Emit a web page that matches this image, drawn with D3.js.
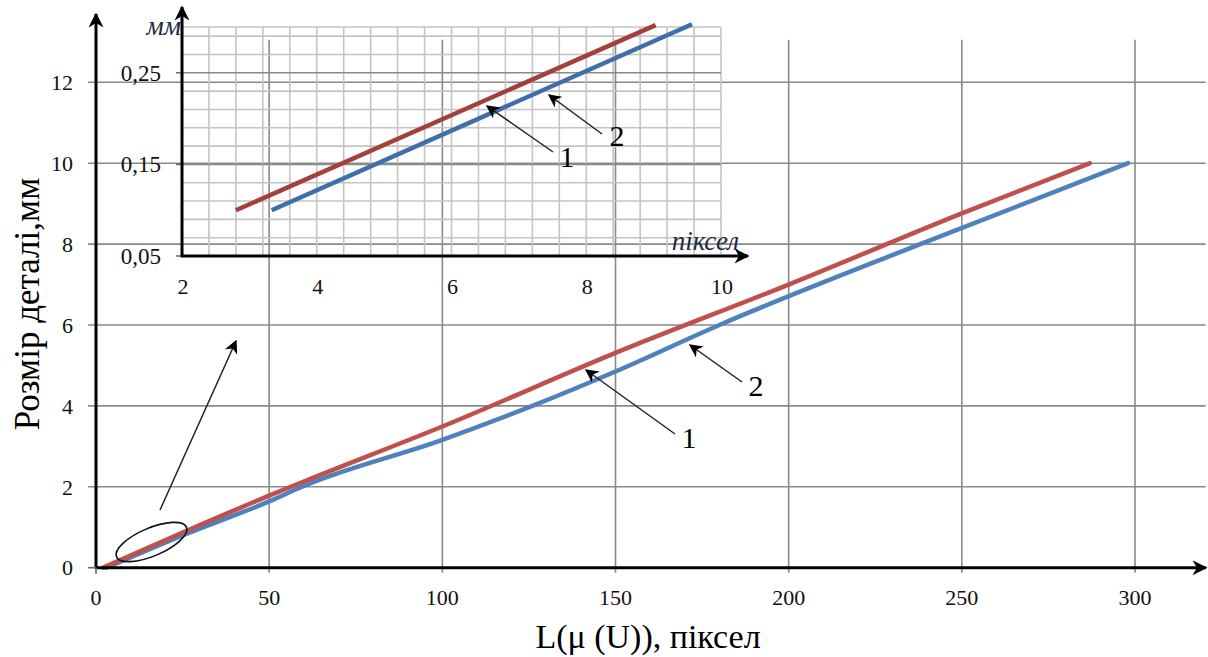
<!DOCTYPE html>
<html><head><meta charset="utf-8">
<script src="https://cdn.jsdelivr.net/npm/d3@7"></script>
<style>html,body{margin:0;padding:0;background:#fff;}svg{display:block;}</style>
</head><body>
<svg id="c" width="1208" height="657"></svg>
<script>
// ---- data ----
const xTicks = [0, 50, 100, 150, 200, 250, 300];
const yTicks = [0, 2, 4, 6, 8, 10, 12];
const curve1X = [2, 25, 50, 60, 100, 150, 200, 250, 287];
const curve1Y = [0, 0.87, 1.78, 2.13, 3.49, 5.31, 7.0, 8.76, 10.0];
const curve2X = [3, 25, 50, 60, 100, 126, 150, 180, 238, 298];
const curve2Y = [0, 0.8, 1.64, 2.02, 3.16, 4.0, 4.85, 6.0, 8.0, 10.0];
const insetXTicks = [2, 4, 6, 8, 10];
const insetYTicks = [0.05, 0.15, 0.25];
const insetYTickLabels = ["0,05", "0,15", "0,25"];
const inset1X = [2.8, 9.03];
const inset1Y = [0.10, 0.302];
const inset2X = [3.33, 9.57];
const inset2Y = [0.10, 0.303];
const xTitle = "L(μ (U)), піксел";
const yTitle = "Розмір деталі,мм";

const svg = d3.select("#c");
const serif = "'Liberation Serif','Times New Roman',serif";

// markers
const defs = svg.append("defs");
defs.append("marker").attr("id","axArr").attr("viewBox","0 0 10 10").attr("refX",9).attr("refY",5)
  .attr("markerWidth",5).attr("markerHeight",5).attr("orient","auto").attr("markerUnits","strokeWidth")
  .append("path").attr("d","M0,0 L10,5 L0,10 L3,5 Z").attr("fill","#000");
defs.append("marker").attr("id","annArr").attr("viewBox","0 0 10 10").attr("refX",9).attr("refY",5)
  .attr("markerWidth",9).attr("markerHeight",9).attr("orient","auto").attr("markerUnits","strokeWidth")
  .append("path").attr("d","M0,0 L10,5 L0,10 L3,5 Z").attr("fill","#000");

// ---- main scales ----
const x = d3.scaleLinear().domain([0, 300]).range([96, 1135]);
const y = d3.scaleLinear().domain([0, 12]).range([567.7, 82.3]);
const yTop = 13.05, xRight = 320.4;

// gridlines
const grid = svg.append("g");
grid.selectAll(".vg").data(xTicks.slice(1)).join("line")
  .attr("x1", d=>x(d)).attr("x2", d=>x(d)).attr("y1", y(yTop)).attr("y2", y(0)+5)
  .attr("stroke","#8a8a8a").attr("stroke-width",1.6);
grid.selectAll(".hg").data(yTicks.slice(1)).join("line")
  .attr("x1", x(0)-8).attr("x2", x(xRight)).attr("y1", d=>y(d)).attr("y2", d=>y(d))
  .attr("stroke","#8a8a8a").attr("stroke-width",1.6);

// ---- inset ----
const ix = d3.scaleLinear().domain([2, 10]).range([182, 721]);
const iy = d3.scaleLinear().domain([0.05, 0.30]).range([256, 27]);
const ig = svg.append("g");
const vMinor = d3.range(0, 21).map(i => 2 + i * 0.4);
const hMinor = d3.range(0, 13).map(i => 0.05 + i * 0.02).concat([0.30]);
ig.selectAll(".ivg").data(vMinor).join("line")
  .attr("x1", d=>ix(d)).attr("x2", d=>ix(d)).attr("y1", iy(0.30)).attr("y2", iy(0.05))
  .attr("stroke","#c4c4c4").attr("stroke-width",1.6);
ig.selectAll(".ihg").data(hMinor).join("line")
  .attr("x1", ix(2)).attr("x2", ix(10)).attr("y1", d=>iy(d)).attr("y2", d=>iy(d))
  .attr("stroke", d => (Math.abs(d-0.15)<1e-6||Math.abs(d-0.25)<1e-6) ? "#8a8a8a" : "#c4c4c4")
  .attr("stroke-width",1.6);
ig.selectAll(".iyt").data(insetYTicks).join("line")
  .attr("x1", ix(2)-6).attr("x2", ix(2)).attr("y1", d=>iy(d)).attr("y2", d=>iy(d))
  .attr("stroke","#666").attr("stroke-width",1.5);
// inset lines
const iline = d3.line().x(d=>ix(d[0])).y(d=>iy(d[1]));
ig.append("path").datum(inset1X.map((v,i)=>[v, inset1Y[i]])).attr("d", iline)
  .attr("fill","none").attr("stroke","#a33f3c").attr("stroke-width",4.5);
ig.append("path").datum(inset2X.map((v,i)=>[v, inset2Y[i]])).attr("d", iline)
  .attr("fill","none").attr("stroke","#3f6fab").attr("stroke-width",4.5);
// inset axes
ig.append("line").attr("x1", ix(2)).attr("x2", ix(2)).attr("y1", iy(0.05)+1).attr("y2", 7)
  .attr("stroke","#000").attr("stroke-width",3).attr("marker-end","url(#axArr)");
ig.append("line").attr("x1", ix(2)-1).attr("x2", 748).attr("y1", iy(0.05)).attr("y2", iy(0.05))
  .attr("stroke","#000").attr("stroke-width",3).attr("marker-end","url(#axArr)");
// inset tick labels
ig.selectAll(".iyl").data(insetYTicks).join("text")
  .attr("x", 161).attr("y", d=>iy(d)).attr("dy","0.35em").attr("text-anchor","end")
  .attr("font-family", serif).attr("font-size", 23).attr("fill","#111")
  .text((d,i)=>insetYTickLabels[i]);
ig.selectAll(".ixl").data(insetXTicks).join("text")
  .attr("x", d=>ix(d)+1).attr("y", 294).attr("text-anchor","middle")
  .attr("font-family", serif).attr("font-size", 22).attr("fill","#111").text(d=>d);
ig.append("text").attr("x", 181).attr("y", 35).attr("text-anchor","end")
  .attr("font-family", serif).attr("font-style","italic").attr("font-size", 27).attr("fill","#1f2a44").text("мм");
ig.append("text").attr("x", 739).attr("y", 250).attr("text-anchor","end")
  .attr("font-family", serif).attr("font-style","italic").attr("font-size", 27).attr("fill","#1f2a44").text("піксел");
// inset annotations
ig.append("line").attr("x1",553).attr("y1",152).attr("x2",487).attr("y2",106)
  .attr("stroke","#222").attr("stroke-width",1.5).attr("marker-end","url(#annArr)");
ig.append("line").attr("x1",602).attr("y1",134).attr("x2",549).attr("y2",95)
  .attr("stroke","#222").attr("stroke-width",1.5).attr("marker-end","url(#annArr)");
ig.append("text").attr("x",567).attr("y",167).attr("text-anchor","middle")
  .attr("font-family",serif).attr("font-size",30).attr("fill","#000").text("1");
ig.append("text").attr("x",617).attr("y",146).attr("text-anchor","middle")
  .attr("font-family",serif).attr("font-size",30).attr("fill","#000").text("2");

// ---- main curves ----
const line = d3.line().x(d=>x(d[0])).y(d=>y(d[1])).curve(d3.curveMonotoneX);
svg.append("path").datum(curve2X.map((v,i)=>[v, curve2Y[i]])).attr("d", line)
  .attr("fill","none").attr("stroke","#4f81bd").attr("stroke-width",4.5).attr("stroke-linecap","round");
svg.append("path").datum(curve1X.map((v,i)=>[v, curve1Y[i]])).attr("d", line)
  .attr("fill","none").attr("stroke","#c0504d").attr("stroke-width",4.5).attr("stroke-linecap","round");

// main axes
svg.append("line").attr("x1", x(0)).attr("x2", x(0)).attr("y1", y(0)+1).attr("y2", 14)
  .attr("stroke","#000").attr("stroke-width",3).attr("marker-end","url(#axArr)");
svg.append("line").attr("x1", x(0)-1).attr("x2", 1206).attr("y1", y(0)).attr("y2", y(0))
  .attr("stroke","#000").attr("stroke-width",3).attr("marker-end","url(#axArr)");
svg.append("line").attr("x1", x(0)-8).attr("x2", x(0)).attr("y1", y(0)).attr("y2", y(0))
  .attr("stroke","#666").attr("stroke-width",1.6);
svg.append("line").attr("x1", x(0)).attr("x2", x(0)).attr("y1", y(0)).attr("y2", y(0)+6)
  .attr("stroke","#666").attr("stroke-width",1.6);

// tick labels
svg.selectAll(".xl").data(xTicks).join("text")
  .attr("x", d=>x(d)).attr("y", 605).attr("text-anchor","middle")
  .attr("font-family", serif).attr("font-size", 22).attr("fill","#111").text(d=>d);
svg.selectAll(".yl").data(yTicks).join("text")
  .attr("x", 73).attr("y", d=>y(d)).attr("dy","0.35em").attr("text-anchor","end")
  .attr("font-family", serif).attr("font-size", 22).attr("fill","#111").text(d=>d);

// titles
svg.append("text").attr("x", 648).attr("y", 648).attr("text-anchor","middle")
  .attr("font-family", serif).attr("font-size", 34).attr("fill","#000").text(xTitle);
svg.append("text").attr("transform","translate(39,304) rotate(-90)").attr("text-anchor","middle")
  .attr("font-family", serif).attr("font-size", 35).attr("fill","#000").text(yTitle);

// main annotations
svg.append("line").attr("x1",675).attr("y1",434).attr("x2",586).attr("y2",370)
  .attr("stroke","#222").attr("stroke-width",1.5).attr("marker-end","url(#annArr)");
svg.append("line").attr("x1",742).attr("y1",382).attr("x2",690).attr("y2",345)
  .attr("stroke","#222").attr("stroke-width",1.5).attr("marker-end","url(#annArr)");
svg.append("text").attr("x",689).attr("y",448).attr("text-anchor","middle")
  .attr("font-family",serif).attr("font-size",30).attr("fill","#000").text("1");
svg.append("text").attr("x",756).attr("y",396).attr("text-anchor","middle")
  .attr("font-family",serif).attr("font-size",30).attr("fill","#000").text("2");

// ellipse + zoom arrow
svg.append("ellipse").attr("cx",151.5).attr("cy",542).attr("rx",38).attr("ry",14)
  .attr("transform","rotate(-23,151.5,542)").attr("fill","none").attr("stroke","#111").attr("stroke-width",1.6);
svg.append("line").attr("x1",160).attr("y1",510).attr("x2",236).attr("y2",341)
  .attr("stroke","#222").attr("stroke-width",1.5).attr("marker-end","url(#annArr)");
</script>
</body></html>
